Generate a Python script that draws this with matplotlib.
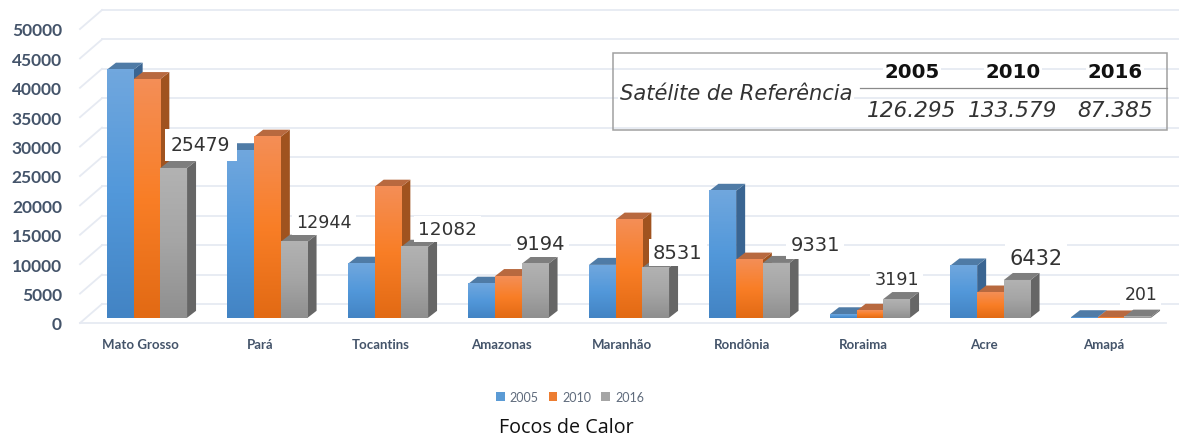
import numpy as np
import matplotlib
matplotlib.use("Agg")
import matplotlib.pyplot as plt
from matplotlib.colors import LinearSegmentedColormap
from matplotlib.patches import Polygon, Rectangle

# data
states = ["Mato Grosso", "Pará", "Tocantins", "Amazonas", "Maranhão",
          "Rondônia", "Roraima", "Acre", "Amapá"]
years = ["2005", "2010", "2016"]
focos_2005 = [42200, 28500, 9200, 5800, 9000, 21600, 600, 8900, 100]
focos_2010 = [40600, 30800, 22300, 7100, 16700, 9900, 1200, 4300, 60]
focos_2016 = [25479, 12944, 12082, 9194, 8531, 9331, 3191, 6432, 201]
yticks = list(range(0, 50001, 5000))

sat_label = "Satélite de Referência"
sat_totals = ["126.295", "133.579", "87.385"]

W, H = 1179, 439

# where the plain axes sit, in pixels of the reference
LEFT, RIGHT, TOP, BOTTOM = 80, 1166, 30, 324
X0, X_STEP = 140, 120.5
PX_PER_VAL = (BOTTOM - TOP) / 50000

# 3d look: bars stand a bit behind the front edge of the floor
bar_shift_x = 7 / X_STEP
bar_shift_y = 5.2 / PX_PER_VAL
depth_x = 9 / X_STEP
depth_y = 7 / PX_PER_VAL
wall_x = 22 / X_STEP
wall_y = 19 / PX_PER_VAL
bar_w = 26.7 / X_STEP

grad_colors = [["#70A7DE", "#5298DA", "#4384C4"],
               ["#F48E56", "#F97E26", "#E26A14"],
               ["#B2B2B2", "#A5A5A5", "#8F8F8F"]]
top_colors = ["#4F7BA6", "#B8693F", "#7E7E7E"]
side_colors = ["#3A6592", "#A0531F", "#666666"]
legend_colors = ["#5B9BD5", "#ED7D31", "#A5A5A5"]
grid_color = "#E6EAF2"
text_color = "#44546A"

fig = plt.figure(figsize=(W / 100, H / 100), dpi=100)
ax = fig.add_axes([LEFT / W, 1 - BOTTOM / H, (RIGHT - LEFT) / W, (BOTTOM - TOP) / H])
xlim = ((LEFT - X0) / X_STEP, (RIGHT - X0) / X_STEP)
ylim = (0, 50000)

for s in ax.spines.values():
    s.set_visible(False)

# walls of the 3d box
for t in yticks:
    ax.plot([xlim[0], xlim[0] + wall_x], [t, t + wall_y], color=grid_color, lw=1.3,
            clip_on=False, zorder=1)
    ax.plot([xlim[0] + wall_x, xlim[1] + wall_x], [t + wall_y, t + wall_y],
            color=grid_color, lw=1.3, clip_on=False, zorder=1)
ax.plot(xlim, [0, 0], color=grid_color, lw=1.3, clip_on=False, zorder=1)

series = [focos_2005, focos_2010, focos_2016]
handles = []
for k, vals in enumerate(series):
    cmap = LinearSegmentedColormap.from_list("g", grad_colors[k])
    grad = np.linspace(0, 1, 64).reshape(-1, 1)
    for i, v in enumerate(vals):
        x1 = i + bar_shift_x - 1.5 * bar_w + k * bar_w
        x2 = x1 + bar_w
        y1 = bar_shift_y
        y2 = y1 + v
        z = 3 + i * 3 + k * 0.5
        # side and top faces
        ax.add_patch(Polygon([(x2, y1), (x2 + depth_x, y1 + depth_y),
                              (x2 + depth_x, y2 + depth_y), (x2, y2)],
                             fc=side_colors[k], ec="none", zorder=z, clip_on=False))
        ax.add_patch(Polygon([(x1, y2), (x1 + depth_x, y2 + depth_y),
                              (x2 + depth_x, y2 + depth_y), (x2, y2)],
                             fc=top_colors[k], ec="none", zorder=z, clip_on=False))
        # front face with the excel style gradient
        ax.bar(x1, v, bar_w, bottom=y1, align="edge", color=legend_colors[k], zorder=z + 0.1)
        ax.imshow(grad, extent=(x1, x2, y1, y2), cmap=cmap, aspect="auto", origin="upper",
                  zorder=z + 0.2, interpolation="bilinear")
    handles.append(Rectangle((0, 0), 1, 1, fc=legend_colors[k], ec="none"))

ax.set_xlim(xlim)
ax.set_ylim(ylim)

ax.set_yticks(yticks)
ax.set_yticklabels([str(t) for t in yticks], fontfamily="Lato", fontweight="bold",
                   fontsize=12.5, color=text_color)
ax.set_xticks(range(len(states)))
ax.set_xticklabels(states, fontfamily="Lato", fontweight="bold", fontsize=9.5, color=text_color)
ax.tick_params(axis="y", length=0, pad=13)
ax.tick_params(axis="x", length=0, pad=11)

# labels of the 2016 bars, placed by hand in the original
label_dx = [27, 30, 33, 5, 22, 39, 0, 19, 3]
label_dy = [23, 20, 18, 20, 15, 18, 20, 22, 23]
label_size = [13.5, 12.6, 13.3, 14, 14, 14, 12.7, 15, 12.4]
label_pad = [4.5, 3, 3, 3, 3, 3, 3, 3, 3]
for i, v in enumerate(focos_2016):
    ax.annotate(str(v), (i + bar_shift_x + bar_w, bar_shift_y + v),
                xytext=(label_dx[i], label_dy[i]), textcoords="offset pixels",
                ha="center", va="center", fontsize=label_size[i], color="#333333",
                bbox=dict(fc="white", ec="none", pad=label_pad[i]), zorder=60,
                annotation_clip=False)

# the small table pasted on top of the chart
def px(x, y):
    return x / W, 1 - y / H

box_x1, box_y1 = px(613, 131)
box_x2, box_y2 = px(1167, 54)
fig.add_artist(Rectangle((box_x1, box_y1), box_x2 - box_x1, box_y2 - box_y1,
                         transform=fig.transFigure, fc="none", ec="#A0A0A0", lw=1.1, zorder=70))
line_x1, line_y = px(860, 89)
fig.add_artist(plt.Line2D([line_x1, box_x2], [line_y, line_y], color="#8A8A8A", lw=0.9, zorder=70))
cell_bg = dict(fc="white", ec="none", pad=1)
fig.text(*px(736, 94), sat_label, ha="center", va="center", style="italic", fontsize=15.1,
         color="#333333", zorder=71, bbox=cell_bg)
for cx, year, total in zip([912, 1013, 1115], years, sat_totals):
    fig.text(*px(cx, 73), year, ha="center", va="center", fontweight="bold", fontsize=14.2,
             color="#111111", zorder=71, bbox=cell_bg)
    fig.text(*px(cx, 111), total, ha="center", va="center", style="italic", fontsize=15.6,
             color="#333333", zorder=71, bbox=cell_bg)

leg = fig.legend(handles, years, ncol=3, loc="center", bbox_to_anchor=px(570, 398), frameon=False,
                 prop={"family": "Lato", "size": 9}, handlelength=0.7, handleheight=0.7,
                 handletextpad=0.4, columnspacing=0.8, labelcolor="#5F6B7C")

fig.text(*px(566, 428), "Focos de Calor", ha="center", va="center", family="Open Sans",
         fontsize=14.2, color="#111111")

fig.savefig("out.png", dpi=100)
